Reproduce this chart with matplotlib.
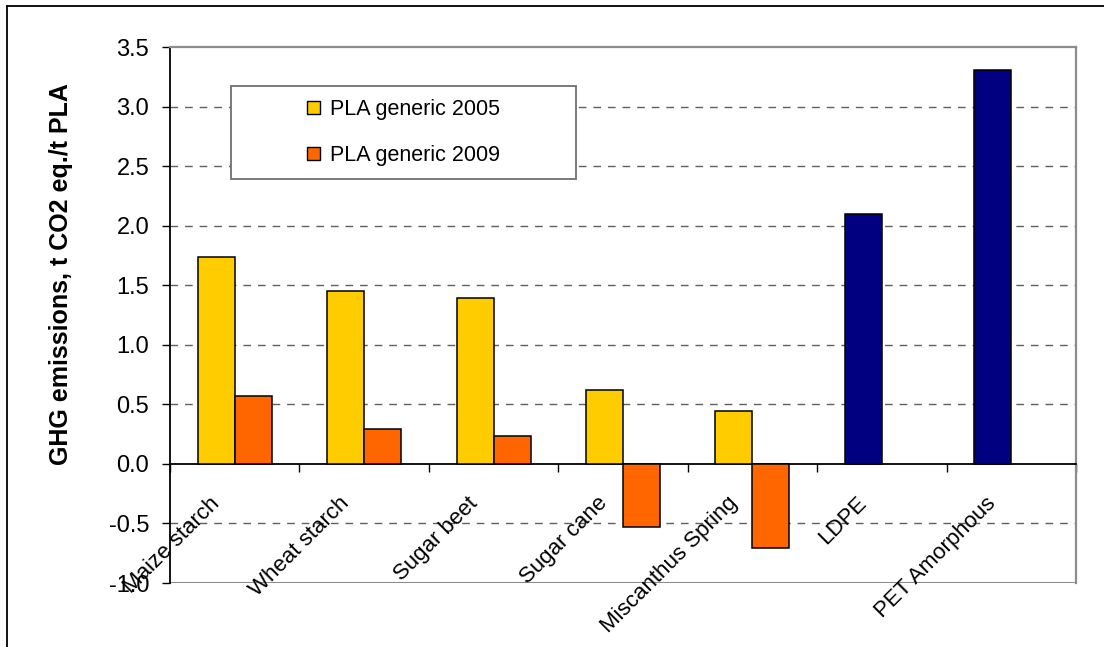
import matplotlib
matplotlib.use("Agg")
import matplotlib.pyplot as plt
import matplotlib.transforms as mtransforms
from matplotlib.patches import Rectangle, Patch
from matplotlib.lines import Line2D
import numpy as np

plt.rcParams['font.family'] = ['Liberation Sans', 'DejaVu Sans']

categories = ["Maize starch", "Wheat starch", "Sugar beet", "Sugar cane",
              "Miscanthus Spring", "LDPE", "PET Amorphous"]
pla_2005 = [1.74, 1.45, 1.39, 0.62, 0.44, np.nan, np.nan]
pla_2009 = [0.57, 0.29, 0.23, -0.53, -0.71, np.nan, np.nan]
fossil = [np.nan, np.nan, np.nan, np.nan, np.nan, 2.10, 3.31]
yticks = [-1.0, -0.5, 0.0, 0.5, 1.0, 1.5, 2.0, 2.5, 3.0, 3.5]
ylabel = "GHG emissions, t CO2 eq./t PLA"
legend_labels = ["PLA generic 2005", "PLA generic 2009"]

yellow = "#FFCC00"
orange = "#FF6600"
navy = "#000080"
frame_gray = "#8c8c8c"

fig = plt.figure(figsize=(11.04, 6.47), dpi=100)
ax = fig.add_axes([170 / 1104, 64 / 647, 906 / 1104, 536 / 647])

x = np.arange(len(categories))
w = 0.286
ax.bar(x - w / 2, pla_2005, w, color=yellow, edgecolor="black", linewidth=1.1, zorder=3)
ax.bar(x + w / 2, pla_2009, w, color=orange, edgecolor="black", linewidth=1.1, zorder=3)
ax.bar(x - w / 2, fossil, w, color=navy, edgecolor="black", linewidth=1.1, zorder=3)

ax.set_xlim(-0.5, len(categories) - 0.5)
ax.set_ylim(yticks[0], yticks[-1])

# dashed grid, not on the frame or zero line
for t in yticks:
    if t not in (0.0, yticks[0], yticks[-1]):
        ax.axhline(t, color="#606060", linewidth=1.0, dashes=(5.5, 5), zorder=1)

# plot frame
ax.spines['bottom'].set_position(('data', 0))
ax.spines['bottom'].set_linewidth(1.3)
ax.spines['left'].set_linewidth(1.3)
for s in ['top', 'right']:
    ax.spines[s].set_color(frame_gray)
    ax.spines[s].set_linewidth(1.6)
ax.axhline(yticks[0], color=frame_gray, linewidth=2.2, zorder=2)

ax.set_yticks(yticks)
ax.set_yticklabels(["%.1f" % t for t in yticks], fontsize=17)
ax.tick_params(axis='y', direction='out', length=5.5, width=1.0, pad=9.5)
ax.set_xticks(np.arange(len(categories) + 1) - 0.5)
ax.set_xticklabels([])
ax.tick_params(axis='x', direction='out', length=5.5, width=1.0)

# category labels under the zero line
offset = mtransforms.ScaledTranslation(-0.11, -0.29, fig.dpi_scale_trans)
for i, name in enumerate(categories):
    ax.text(x[i], 0, name, rotation=45, ha='right', va='top', fontsize=16,
            transform=ax.transData + offset, zorder=6)

# legend box
bx0, bx1, by0, by1 = 0.0673, 0.448, 0.754, 0.927
ax.add_patch(Rectangle((bx0, by0), bx1 - bx0, by1 - by0, transform=ax.transAxes,
                       facecolor="white", edgecolor="#707070", linewidth=1.3, zorder=4))
handles = [Patch(facecolor=yellow, edgecolor="black", linewidth=1.0),
           Patch(facecolor=orange, edgecolor="black", linewidth=1.0)]
leg = ax.legend(handles, legend_labels, loc='center', bbox_to_anchor=((bx0 + bx1) / 2, (by0 + by1) / 2),
                frameon=False, fontsize=15.5, handlelength=0.58, handleheight=0.58,
                handletextpad=0.45, labelspacing=1.15)
leg.set_zorder(5)

fig.text(61 / 1104, 1 - 274 / 647, ylabel, rotation=90, ha='center', va='center',
         fontsize=18, fontweight='bold')

# outer border (left and top only)
fig.add_artist(Line2D([7 / 1104, 7 / 1104], [0, 1 - 6 / 647], color="black", linewidth=1.3,
                      transform=fig.transFigure))
fig.add_artist(Line2D([7 / 1104, 1], [1 - 6 / 647, 1 - 6 / 647], color="black", linewidth=1.3,
                      transform=fig.transFigure))

fig.savefig("out.png", dpi=100)
